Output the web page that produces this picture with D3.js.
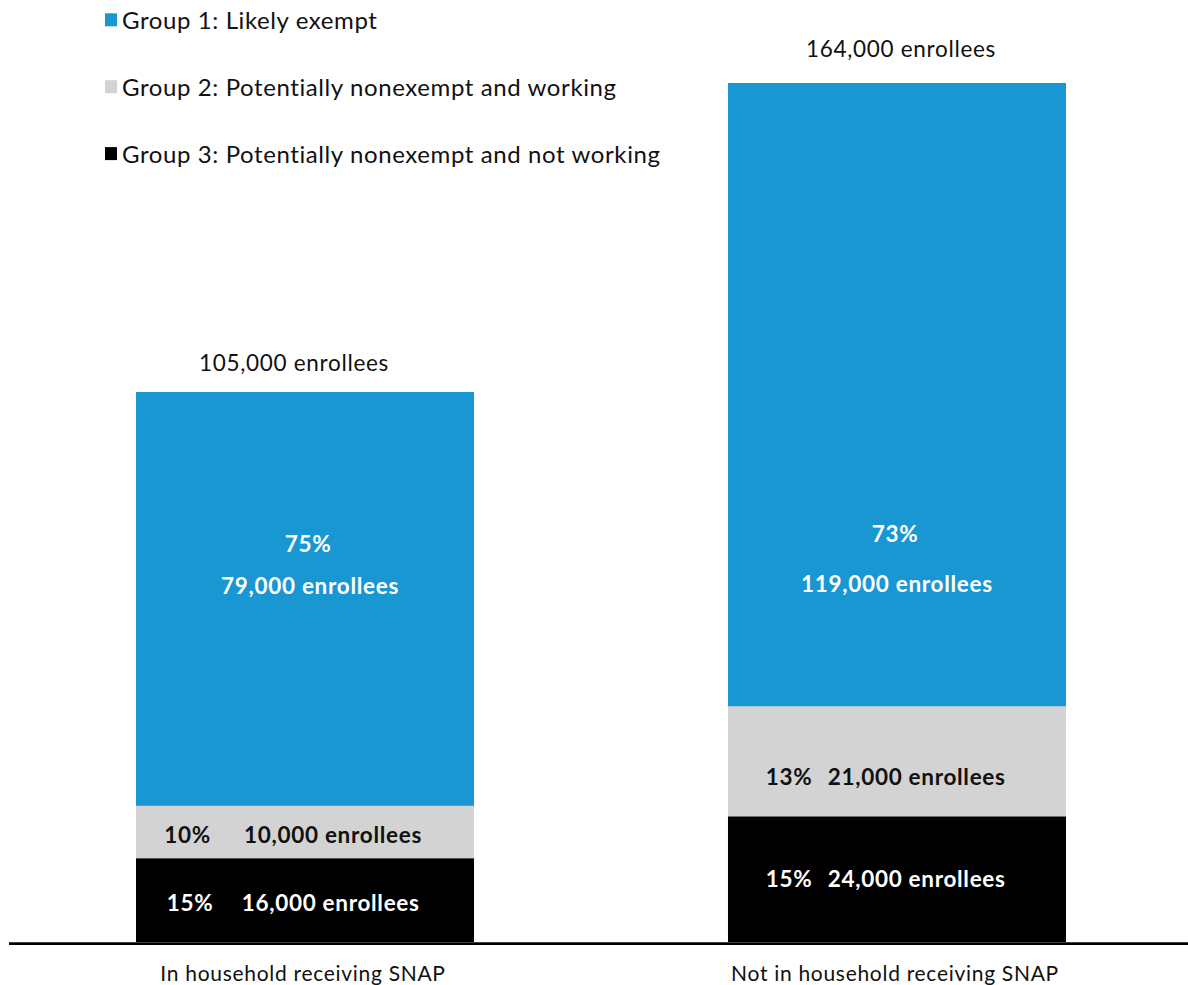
<!DOCTYPE html>
<html>
<head>
<meta charset="utf-8">
<script src="https://cdn.jsdelivr.net/npm/d3@7"></script>
<style>
  html, body { margin: 0; padding: 0; background: #fff; }
  svg { display: block; font-family: Lato, "Open Sans", sans-serif; }
</style>
</head>
<body>
<svg id="chart" width="1188" height="985"></svg>
<script>
// Enrollees by SNAP household status, split into three work-requirement groups
const categories = ["In household receiving SNAP", "Not in household receiving SNAP"];
const groups = [
  "Group 1: Likely exempt",
  "Group 2: Potentially nonexempt and working",
  "Group 3: Potentially nonexempt and not working"
];
const groupKeys = ["g1", "g2", "g3"];
// enrollee counts per group (stacked bottom to top: g3, g2, g1)
const likelyExempt = [79000, 119000];
const nonexemptWorking = [10000, 21000];
const nonexemptNotWorking = [16000, 24000];
const totals = [105000, 164000];
const pctLikelyExempt = ["75%", "73%"];
const pctWorking = ["10%", "13%"];
const pctNotWorking = ["15%", "15%"];

const colors = { g1: "#1897D3", g2: "#D3D3D3", g3: "#000000" };

const svg = d3.select("#chart");
const baseY = 942;

const x = d3.scaleBand()
  .domain(categories)
  .range([136, 1066])
  .paddingInner(0.429)
  .paddingOuter(0);

const y = d3.scaleLinear()
  .domain([0, d3.max(totals)])
  .range([baseY, 83]);

const rows = categories.map((c, i) => ({
  cat: c,
  g3: nonexemptNotWorking[i],
  g2: nonexemptWorking[i],
  g1: likelyExempt[i]
}));

const series = d3.stack().keys(["g3", "g2", "g1"])(rows);

svg.append("g")
  .selectAll("g")
  .data(series)
  .join("g")
  .attr("fill", d => colors[d.key])
  .selectAll("rect")
  .data(d => d)
  .join("rect")
  .attr("x", d => x(d.data.cat))
  .attr("width", x.bandwidth())
  .attr("y", d => y(d[1]))
  .attr("height", d => y(d[0]) - y(d[1]));

// baseline
svg.append("line")
  .attr("x1", 9).attr("x2", 1188)
  .attr("y1", 943.6).attr("y2", 943.6)
  .attr("stroke", "#000")
  .attr("stroke-width", 2.6);

// category labels
svg.append("g")
  .selectAll("text")
  .data(categories)
  .join("text")
  .attr("x", d => x(d) + x.bandwidth() / 2 - 2)
  .attr("y", 981)
  .attr("text-anchor", "middle")
  .attr("font-size", 21)
  .attr("letter-spacing", 0.7)
  .attr("fill", "#111")
  .text(d => d);

const fmt = d3.format(",");

// totals above bars
const totalOffset = [21, 26];
svg.append("g")
  .selectAll("text")
  .data(categories)
  .join("text")
  .attr("x", (d, i) => x(d) + x.bandwidth() / 2 + (i === 0 ? -11 : 4))
  .attr("y", (d, i) => y(totals[i]) - totalOffset[i])
  .attr("text-anchor", "middle")
  .attr("font-size", 22.5)
  .attr("letter-spacing", 0.7)
  .attr("fill", "#111")
  .text((d, i) => fmt(totals[i]) + " enrollees");

const labels = svg.append("g")
  .attr("font-weight", "bold")
  .attr("font-size", 22.5)
  .attr("letter-spacing", 0.7);

// Group 1 labels (two lines inside the blue segment)
const blueOff = [[-47, 42], [147, 50]];
categories.forEach((c, i) => {
  const cx = x(c) + x.bandwidth() / 2;
  const mid = (y(totals[i]) + y(nonexemptNotWorking[i] + nonexemptWorking[i])) / 2;
  labels.append("text")
    .attr("x", cx + (i === 0 ? 3 : -2)).attr("y", mid + blueOff[i][0])
    .attr("text-anchor", "middle").attr("fill", "#fff")
    .text(pctLikelyExempt[i]);
  labels.append("text")
    .attr("x", cx + (i === 0 ? 5 : 0)).attr("y", mid + blueOff[i][0] + blueOff[i][1])
    .attr("text-anchor", "middle").attr("fill", "#fff")
    .text(fmt(likelyExempt[i]) + " enrollees");
});

// Groups 2 and 3 labels (percentage then count on one line)
const inline = [
  { vals: nonexemptWorking, pcts: pctWorking, lo: i => nonexemptNotWorking[i], fill: "#111", dy: [11, 23.7] },
  { vals: nonexemptNotWorking, pcts: pctNotWorking, lo: () => 0, fill: "#fff", dy: [10.7, 8] }
];
const pctX = [[187.5, 190], [789, 789]];
const cntX = [[244, 241.7], [827.7, 827.7]];
inline.forEach((g, gi) => {
  categories.forEach((c, i) => {
    const mid = (y(g.lo(i)) + y(g.lo(i) + g.vals[i])) / 2 + g.dy[i];
    labels.append("text")
      .attr("x", pctX[i][gi]).attr("y", mid)
      .attr("text-anchor", "middle").attr("fill", g.fill)
      .text(g.pcts[i]);
    labels.append("text")
      .attr("x", cntX[i][gi]).attr("y", mid)
      .attr("text-anchor", "start").attr("fill", g.fill)
      .text(fmt(g.vals[i]) + " enrollees");
  });
});

// legend
const legend = svg.append("g")
  .selectAll("g")
  .data(groups)
  .join("g")
  .attr("transform", (d, i) => `translate(105, ${29.3 + i * 66.9})`);
legend.append("rect")
  .attr("x", 0).attr("y", -16)
  .attr("width", 12).attr("height", 13)
  .attr("fill", (d, i) => colors[groupKeys[i]]);
legend.append("text")
  .attr("x", 17).attr("y", 0)
  .attr("font-size", 24)
  .attr("letter-spacing", 0.6)
  .attr("fill", "#111")
  .text(d => d);
</script>
</body>
</html>
